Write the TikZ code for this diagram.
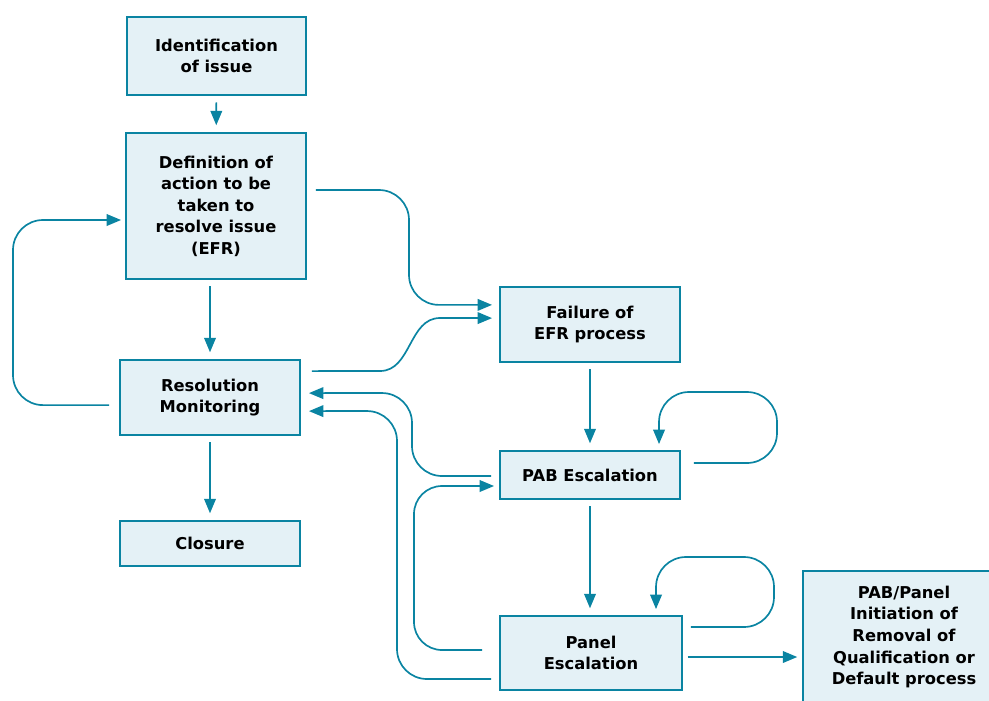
\documentclass[tikz,border=0pt]{standalone}
\usepackage{fontspec}
\setmainfont{DejaVu Sans}
\usepackage{xcolor}
\usetikzlibrary{arrows.meta, positioning}
\definecolor{efrteal}{RGB}{10, 132, 162}
\definecolor{efrfill}{RGB}{228, 241, 246}

\begin{document}
\begin{tikzpicture}[x=0.025cm,y=-0.025cm,
          stage/.style={rectangle,draw=efrteal,fill=efrfill,line width=1.3pt,
                        align=center,inner sep=2pt,minimum width=4.5cm,
                        font=\fontsize{11.6}{15.3}\selectfont\bfseries},
          flow/.style={draw=efrteal,line width=1.2pt,
                       -{Triangle[length=3.6mm,width=2.9mm]}},
          gap/.style={shorten <=0.16cm,shorten >=0.17cm},
          roundpath/.style={rounded corners=0.75cm}]
        \useasboundingbox (0,0) rectangle (989,700);
        \clip (0,0) rectangle (989,700);
        \node[stage,minimum width=4.475cm,minimum height=1.95cm](ident) at (216.5,56)
          {Identification\\of issue};
        \node[stage,minimum height=3.65cm](define) at (216,206)
          {Definition of\\action to be\\taken to\\resolve issue\\(EFR)};
        \node[stage,minimum height=1.875cm](monitor) at (210,397.5)
          {Resolution\\Monitoring};
        \node[stage,minimum height=1.125cm](closure) at (210,543.5){Closure};
        \node[stage,minimum height=1.875cm](failure) at (590,324.5)
          {Failure of\\EFR process};
        \node[stage,minimum height=1.2cm](pabesc) at (590,475){PAB Escalation};
        \node[stage,minimum width=4.55cm,minimum height=1.85cm](panelesc) at (591,653)
          {Panel\\Escalation};
        \node[stage,minimum width=5.05cm,minimum height=3.3cm](removal) at (904,637)
          {PAB/Panel\\Initiation of\\Removal of\\Qualification or\\Default process};
        \draw[flow,gap](ident)--(define);
        \draw[flow,gap](monitor.north |- define.south)--(monitor.north);
        \draw[flow,gap](monitor)--(closure);
        \draw[flow,gap](failure)--(pabesc);
        \draw[flow,gap](pabesc.south)--(pabesc.south |- panelesc.north);
        \coordinate (pe) at ([yshift=-0.1cm]panelesc.east);
        \draw[flow,shorten <=0.12cm,shorten >=0.12cm](pe)--(pe -| removal.west);
        \draw[flow,roundpath]([xshift=-0.25cm,yshift=-0.19cm]monitor.west)
          -| (13,220) -- ([xshift=-0.1cm,yshift=-0.35cm]define.west);
        \draw[flow,roundpath]([xshift=0.225cm,yshift=0.4cm]define.east)
          -- (409,190) |- ([xshift=-0.175cm,yshift=0.49cm]failure.west);
        \draw[flow]([xshift=0.275cm,yshift=0.66cm]monitor.east)
          -- (380,371) to[out=0,in=180] (440,318)
          -- ([xshift=-0.175cm,yshift=0.16cm]failure.west);
        \draw[flow,roundpath]([xshift=-0.2cm,yshift=-0.025cm]pabesc.west)
          -| (412,393) -- ([xshift=0.2cm,yshift=0.11cm]monitor.east);
        \draw[flow,roundpath]([xshift=-0.2cm,yshift=-0.65cm]panelesc.west)
          -| (397,411) -- ([xshift=0.2cm,yshift=-0.34cm]monitor.east);
        \draw[flow,rounded corners=0.7cm]([xshift=-0.425cm,yshift=0.075cm]panelesc.west)
          -| (414,486) -- ([xshift=-0.125cm,yshift=-0.275cm]pabesc.west);
        \draw[flow,roundpath]([xshift=0.325cm,yshift=0.3cm]pabesc.east)
          -| (777,392) -| ([xshift=1.725cm,yshift=0.15cm]pabesc.north);
        \draw[flow,roundpath]([xshift=0.2cm,yshift=0.65cm]panelesc.east)
          -| (774,557) -| ([xshift=1.625cm,yshift=0.15cm]panelesc.north);
      \end{tikzpicture}
\end{document}
